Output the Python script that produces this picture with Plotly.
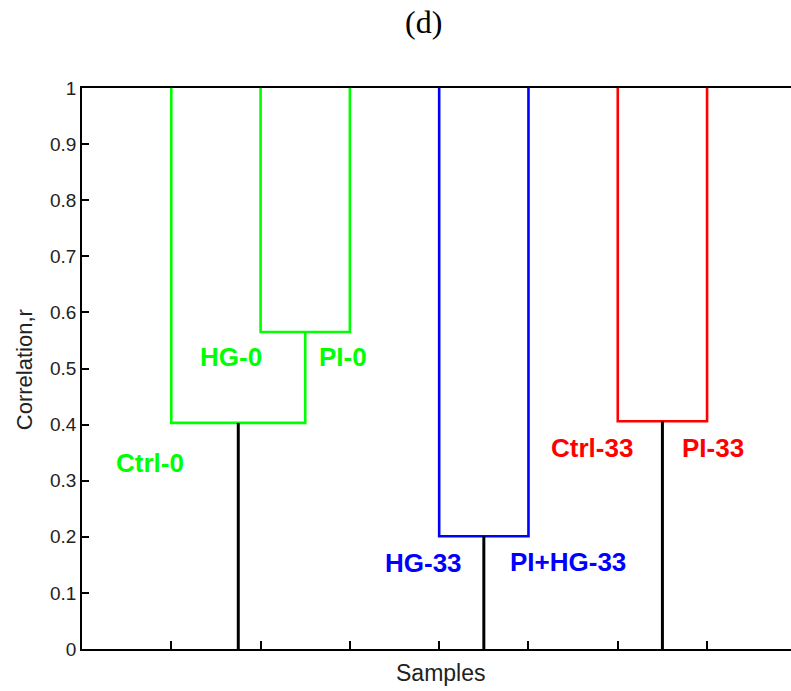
import plotly.graph_objects as go

# ---- data ----
leaf_labels = ["Ctrl-0", "HG-0", "PI-0", "HG-33", "PI+HG-33", "Ctrl-33", "PI-33"]
leaf_pos = [1, 2, 3, 4, 5, 6, 7]
leaf_top = 1.0
# merges: (left child, right child, height, colour); child = leaf index or "m<k>"
merge_left = ["L1", "L0", "L3", "L5"]
merge_right = ["L2", "m0", "L4", "L6"]
merge_height = [0.565, 0.403, 0.201, 0.406]
merge_color = ["#00ff00", "#00ff00", "#0000ff", "#ff0000"]
root_merges = [1, 2, 3]  # clusters joined by black stems down to 0

label_x = [0.76, 1.67, 2.92, 3.82, 5.44, 5.71, 7.07]
label_y = [0.332, 0.52, 0.52, 0.153, 0.155, 0.358, 0.358]
label_color = ["#00ff00", "#00ff00", "#00ff00", "#0000ff", "#0000ff", "#ff0000", "#ff0000"]

y_ticks = [0, 0.1, 0.2, 0.3, 0.4, 0.5, 0.6, 0.7, 0.8, 0.9, 1]
y_ticktext = ["0", "0.1", "0.2", "0.3", "0.4", "0.5", "0.6", "0.7", "0.8", "0.9", "1"]

fig = go.Figure()

node_x = {}
node_y = {}
for i, p in enumerate(leaf_pos):
    node_x["L%d" % i] = p
    node_y["L%d" % i] = leaf_top

for k, (a, b, h, c) in enumerate(zip(merge_left, merge_right, merge_height, merge_color)):
    xa, ya = node_x[a], node_y[a]
    xb, yb = node_x[b], node_y[b]
    fig.add_trace(go.Scatter(x=[xa, xa, xb, xb], y=[ya, h, h, yb], mode="lines",
                             line=dict(color=c, width=2.6), hoverinfo="skip", showlegend=False))
    node_x["m%d" % k] = (xa + xb) / 2
    node_y["m%d" % k] = h

for k in root_merges:
    xm, h = node_x["m%d" % k], node_y["m%d" % k]
    fig.add_trace(go.Scatter(x=[xm, xm], y=[h, 0], mode="lines",
                             line=dict(color="black", width=3), hoverinfo="skip", showlegend=False))

for t, x, y, c in zip(leaf_labels, label_x, label_y, label_color):
    fig.add_annotation(x=x, y=y, xref="x", yref="y", text="<b>%s</b>" % t, showarrow=False,
                       font=dict(family="Liberation Sans, Arial", size=26, color=c),
                       xanchor="center", yanchor="middle")

fig.add_annotation(x=0.481, y=1.118, xref="paper", yref="paper", text="(d)", showarrow=False,
                   font=dict(family="Liberation Serif, Times New Roman", size=32, color="black"),
                   xanchor="center", yanchor="middle")
fig.add_annotation(x=-0.0818, y=0.497, xref="paper", yref="paper", text="Correlation,r",
                   showarrow=False, textangle=-90,
                   font=dict(family="Liberation Sans, Arial", size=22, color="#222"),
                   xanchor="center", yanchor="middle")
fig.add_annotation(x=0.505, y=-0.0428, xref="paper", yref="paper", text="Samples",
                   showarrow=False,
                   font=dict(family="Liberation Sans, Arial", size=23, color="#222"),
                   xanchor="center", yanchor="middle")

fig.update_layout(
    width=791, height=691,
    margin=dict(l=82, r=0, t=88, b=42),
    paper_bgcolor="white", plot_bgcolor="white",
    xaxis=dict(range=[0, 7.94], tickvals=leaf_pos, ticktext=[""] * len(leaf_pos),
               ticks="inside", ticklen=8, tickwidth=1.5, tickcolor="black",
               showline=True, linecolor="black", linewidth=1.5, mirror=True,
               showgrid=False, zeroline=False),
    yaxis=dict(range=[0, 1], tickvals=y_ticks, ticktext=y_ticktext,
               ticks="inside", ticklen=7, tickwidth=1.5, tickcolor="black",
               showline=True, linecolor="black", linewidth=1.5,
               showgrid=False, zeroline=False,
               tickfont=dict(family="Liberation Sans, Arial", size=19, color="#222")),
)

fig.write_html("out.html")
